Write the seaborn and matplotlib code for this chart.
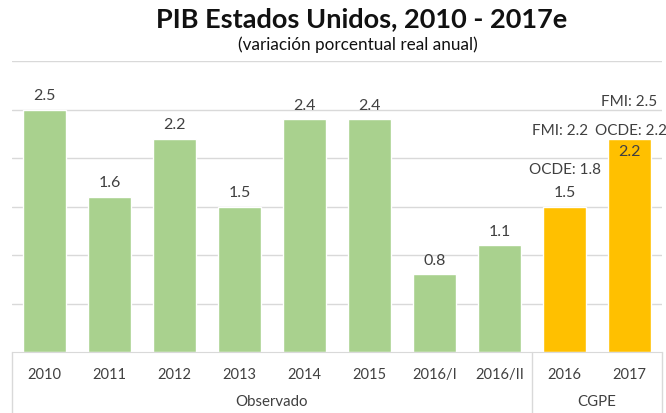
import matplotlib
matplotlib.use("Agg")
import matplotlib.pyplot as plt
import seaborn as sns
import pandas as pd
import matplotlib.transforms as mtransforms

categories = ["2010", "2011", "2012", "2013", "2014", "2015", "2016/I", "2016/II", "2016", "2017"]
values = [2.5, 1.6, 2.2, 1.5, 2.4, 2.4, 0.8, 1.1, 1.5, 2.2]
groups = ["Observado"] * 8 + ["CGPE"] * 2
ocde = {"2016": 1.8, "2017": 2.2}
fmi = {"2016": 2.2, "2017": 2.5}

df = pd.DataFrame({"cat": categories, "val": values, "grp": groups})

sns.set_style("white")
plt.rcParams["font.family"] = ["Lato", "DejaVu Sans"]
txt = "#404040"

fig = plt.figure(figsize=(6.66, 4.13), dpi=100)
ax_bottom = (413 - 352) / 413
ax = fig.add_axes([0.018, ax_bottom, 0.976, 0.852 - ax_bottom])

sns.barplot(data=df, x="cat", y="val", hue="grp",
            palette={"Observado": "#A9D18E", "CGPE": "#FFC000"},
            dodge=False, width=0.66, legend=False, ax=ax, saturation=1)

ax.set_ylim(0, 3)
ax.set_xlim(-0.5, len(categories) - 0.5)
ax.set_yticks([0.5, 1.0, 1.5, 2.0, 2.5, 3.0])
ax.yaxis.grid(True, color="#D9D9D9", linewidth=1)
ax.set_axisbelow(True)
ax.tick_params(left=False, labelleft=False, bottom=False, labelbottom=False)
for s in ["left", "right", "top"]:
    ax.spines[s].set_visible(False)
ax.spines["bottom"].set_color("#D9D9D9")
ax.set_xlabel("")
ax.set_ylabel("")

fs = 11.5
# value labels
for i, (c, v) in enumerate(zip(categories, values)):
    if c == "2017":
        ax.text(i, v - 0.07, f"{v}", ha="center", va="top", fontsize=fs, color=txt)
    else:
        ax.text(i, v + 0.07, f"{v}", ha="center", va="bottom", fontsize=fs, color=txt)

# forecasts labels
fs2 = 11
for c, v in ocde.items():
    i = categories.index(c)
    ax.text(i + (0.02 if c == "2017" else 0), v + 0.08, f"OCDE: {v}", ha="center", va="center",
            fontsize=fs2, color=txt)
for c, v in fmi.items():
    i = categories.index(c)
    ax.text(i - (0.07 if c == "2016" else 0), v + 0.08, f"FMI: {v}", ha="center", va="center",
            fontsize=fs2, color=txt)

# two-level x axis
trans = mtransforms.blended_transform_factory(ax.transData, fig.transFigure)
for i, c in enumerate(categories):
    ax.text(i, (413 - 375) / 413, c, transform=trans, ha="center", va="center", fontsize=10.5, color=txt)
ax.text(3.5, (413 - 402) / 413, "Observado", transform=trans, ha="center", va="center", fontsize=10.8, color=txt)
ax.text(8.5, (413 - 402) / 413, "CGPE", transform=trans, ha="center", va="center", fontsize=10.8, color=txt)
for xs in [-0.5, 7.5, 9.5]:
    ax.plot([xs, xs], [0, ax_bottom], transform=trans, color="#D9D9D9", linewidth=1, clip_on=False)

fig.text(362 / 666, (413 - 19) / 413, "PIB Estados Unidos, 2010 - 2017e", ha="center", va="center",
         fontsize=19.5, color="#111111", fontweight="bold")
fig.text(358 / 666, (413 - 45) / 413, "(variación porcentual real anual)", ha="center", va="center",
         fontsize=12.3, color="#111111")

fig.savefig("out.png", dpi=100)
